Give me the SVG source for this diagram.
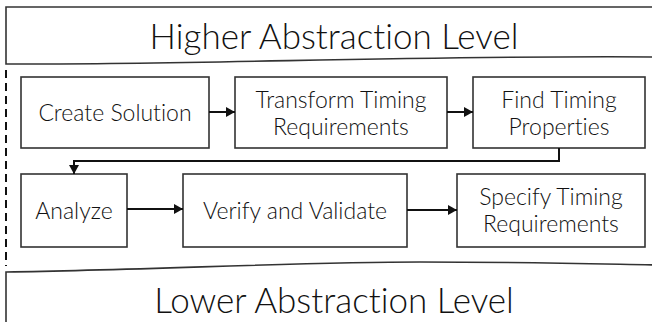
<svg xmlns="http://www.w3.org/2000/svg" width="652" height="322" viewBox="0 0 652 322">
<style>
.banner{fill:#fff;stroke:#333;stroke-width:1.6}
.box{fill:#fff;stroke:#333;stroke-width:1.6}
.t{font-family:Lato,"Noto Sans","Liberation Sans",sans-serif;font-weight:300;font-variant-ligatures:none;fill:#111;text-anchor:middle}
.bt{font-size:23px}
.big{font-size:35px}
.conn{fill:none;stroke:#111;stroke-width:2}
.dash{fill:none;stroke:#111;stroke-width:2;stroke-dasharray:8 5}
</style>
<defs>
<marker id="ah" markerUnits="userSpaceOnUse" markerWidth="9" markerHeight="10" refX="9" refY="5" orient="auto">
<path d="M0,0 L9,5 L0,10 z" fill="#111"/>
</marker>
</defs>
<rect width="652" height="322" fill="#fff"/>
<g id="higher">
<path class="banner" d="M660,7 H6 V64 C200,65 420,55 660,57"/>
<text class="t big" x="334" y="49">Higher Abstraction Level</text>
</g>
<g id="lower">
<path class="banner" d="M6,330 V272 C150,270 300,262 420,262 C520,262 600,264 660,265"/>
<text class="t big" x="334" y="313">Lower Abstraction Level</text>
</g>
<path class="dash" d="M6,70 V266"/>
<g id="create">
<rect class="box" x="21" y="77" width="188" height="71"/>
<text class="t bt" x="115" y="121">Create Solution</text>
</g>
<g id="transform">
<rect class="box" x="235" y="77" width="212" height="71"/>
<text class="t bt" x="341" y="108">Transform Timing</text>
<text class="t bt" x="341" y="135">Requirements</text>
</g>
<g id="find">
<rect class="box" x="473" y="77" width="172" height="71"/>
<text class="t bt" x="559" y="108">Find Timing</text>
<text class="t bt" x="559" y="135">Properties</text>
</g>
<g id="analyze">
<rect class="box" x="21" y="174" width="106" height="73"/>
<text class="t bt" x="74" y="219">Analyze</text>
</g>
<g id="verify">
<rect class="box" x="183" y="174" width="224" height="73"/>
<text class="t bt" x="295" y="219">Verify and Validate</text>
</g>
<g id="specify">
<rect class="box" x="457" y="174" width="188" height="73"/>
<text class="t bt" x="551" y="205">Specify Timing</text>
<text class="t bt" x="551" y="232">Requirements</text>
</g>
<g id="connectors">
<path class="conn" d="M209,112 H235" marker-end="url(#ah)"/>
<path class="conn" d="M447,112 H473" marker-end="url(#ah)"/>
<path class="conn" d="M559,148 V161 H74 V174" marker-end="url(#ah)"/>
<path class="conn" d="M127,209 H183" marker-end="url(#ah)"/>
<path class="conn" d="M407,210 H457" marker-end="url(#ah)"/>
</g>
</svg>
